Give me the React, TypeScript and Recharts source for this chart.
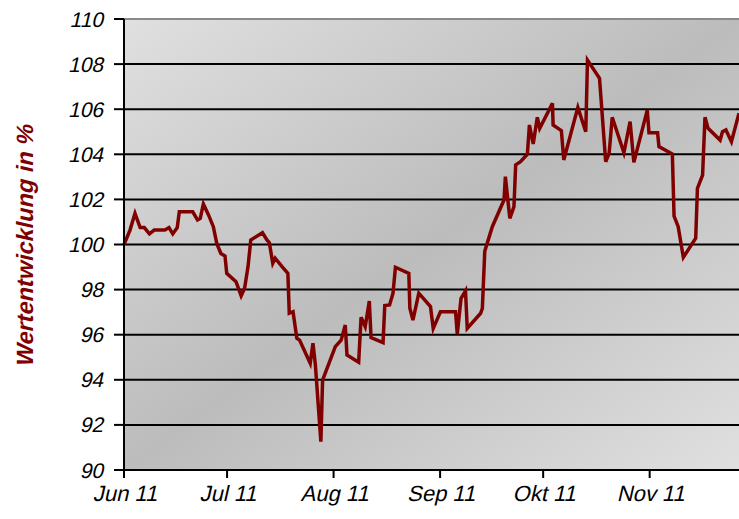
import { CartesianGrid, Line, LineChart, ReferenceLine, XAxis, YAxis } from "recharts";

// days since 1 Jun 2011
const days = [
  0, 1.75, 3.2, 4.7, 5.9, 7.4, 8.8, 11.9, 13.1, 14.2, 15.5, 16.1, 20.0, 21.4, 22.2, 23.1, 24.6, 26.0, 27.0, 28.2,
  29.4, 29.9, 32.6, 34.1, 35.1, 36.1, 36.9, 40.3, 41.6, 42.3, 43.3, 44.0, 46.0, 47.7, 48.1, 49.2, 50.3, 51.1, 54.2,
  55.0, 55.7, 57.3, 57.8, 61.5, 63.2, 64.4, 64.9, 68.3, 69.0, 70.2, 71.4, 71.9, 75.4, 75.9, 77.3, 78.3, 79.0, 82.9,
  83.2, 84.1, 85.8, 89.2, 90.0, 92.1, 96.5, 97.0, 98.1, 99.4, 99.9, 103.8, 104.3, 105.0, 105.7, 107.2, 110.6, 111.0,
  112.3, 113.5, 114.0, 115.4, 117.4, 118.0, 119.1, 120.3, 121.0, 124.7, 124.9, 127.3, 128.0, 132.1, 134.4, 134.9,
  138.4, 140.2, 141.2, 142.1, 145.5, 147.3, 148.4, 152.3, 152.8, 155.3, 155.7, 159.6, 160.1, 161.3, 162.8, 166.4,
  166.9, 168.4, 169.1, 170.0, 173.5, 174.2, 175.2, 176.8, 179.0,
];

const values = [
  100.0, 100.64, 101.38, 100.75, 100.75, 100.47, 100.64, 100.64, 100.75, 100.47, 100.75, 101.45, 101.45, 101.09,
  101.16, 101.8, 101.31, 100.79, 100.05, 99.6, 99.49, 98.72, 98.35, 97.72, 98.06, 99.02, 100.2, 100.52, 100.2,
  100.08, 99.17, 99.39, 99.02, 98.72, 96.95, 97.02, 95.84, 95.76, 94.73, 95.62, 94.66, 91.26, 93.99, 95.47, 95.76,
  96.43, 95.1, 94.78, 96.77, 96.36, 97.49, 95.87, 95.65, 97.29, 97.32, 97.84, 98.99, 98.72, 97.17, 96.65, 97.84,
  97.25, 96.28, 97.02, 97.02, 96.03, 97.61, 97.94, 96.28, 96.95, 97.17, 99.7, 100.05, 100.79, 101.97, 103.01,
  101.16, 101.68, 103.53, 103.67, 104.0, 105.3, 104.46, 105.64, 105.15, 106.26, 105.3, 105.05, 103.75, 106.08,
  105.0, 108.18, 107.37, 103.67, 104.04, 105.64, 104.07, 105.45, 103.64, 105.96, 104.96, 104.96, 104.34, 104.01,
  101.26, 100.79, 99.43, 100.28, 102.49, 103.08, 105.64, 105.15, 104.63, 105.0, 105.08, 104.56, 105.82,
];

const monthStarts = [0, 30, 61, 92, 122, 153];
const monthLabels = ["Jun 11", "Jul 11", "Aug 11", "Sep 11", "Okt 11", "Nov 11"];
const yTicks = [90, 92, 94, 96, 98, 100, 102, 104, 106, 108, 110];

const data = days.map((d, i) => ({ day: d, value: values[i] }));

const font = "'Liberation Sans', Arial, sans-serif";
const slant = -13; // fake italic, the italic face is not picked up

function AxisTitle(props: any) {
  const vb = props.viewBox || {};
  const cy = vb.y + vb.height / 2;
  return (
    <text
      x={0}
      y={0}
      transform={`translate(25, ${cy}) rotate(-90) skewX(${slant})`}
      textAnchor="middle"
      dominantBaseline="central"
      fill="#7f0000"
      fontFamily={font}
      fontWeight="bold"
      fontSize={23.5}
    >
      Wertentwicklung in %
    </text>
  );
}

function XTick(props: any) {
  const { x, y, payload } = props;
  return (
    <text
      x={0}
      y={0}
      transform={`translate(${x + 1}, ${y + 21}) skewX(${slant})`}
      textAnchor="middle"
      fill="#000"
      fontFamily={font}
      fontSize={22}
    >
      {monthLabels[monthStarts.indexOf(payload.value)]}
    </text>
  );
}

function YTick(props: any) {
  const { x, y, payload } = props;
  return (
    <text
      x={0}
      y={0}
      transform={`translate(${x - 2}, ${y + 7.5}) skewX(${slant})`}
      textAnchor="end"
      fill="#000"
      fontFamily={font}
      fontSize={21}
    >
      {payload.value}
    </text>
  );
}

export default function App() {
  return (
    <div style={{ position: "absolute", left: 0, top: 0, width: 739, height: 519, background: "#fff" }}>
      <LineChart width={739} height={519} data={data} margin={{ top: 19, right: 0, bottom: 0, left: 0 }}>
        <defs>
          <linearGradient id="bg" x1="0" y1="0" x2="1" y2="1">
            <stop offset="0%" stopColor="#e0e0e0" />
            <stop offset="50%" stopColor="#bcbcbc" />
            <stop offset="100%" stopColor="#e0e0e0" />
          </linearGradient>
        </defs>
        <CartesianGrid vertical={false} stroke="#000" strokeWidth={2} fill="url(#bg)" fillOpacity={1} />
        <ReferenceLine y={110} stroke="#8a8a8a" strokeWidth={2} />
        <XAxis
          dataKey="day"
          type="number"
          domain={[0, 179]}
          ticks={monthStarts}
          height={49}
          tickSize={8}
          tickMargin={2}
          axisLine={{ stroke: "#000", strokeWidth: 2 }}
          tickLine={{ stroke: "#000", strokeWidth: 2 }}
          tick={<XTick />}
          interval={0}
        />
        <YAxis
          domain={[90, 110]}
          ticks={yTicks}
          width={124}
          tickSize={10}
          tickMargin={9}
          axisLine={{ stroke: "#000", strokeWidth: 2 }}
          tickLine={{ stroke: "#000", strokeWidth: 2 }}
          tick={<YTick />}
          interval={0}
          label={<AxisTitle />}
        />
        <Line
          type="linear"
          dataKey="value"
          stroke="#800000"
          strokeWidth={3.5}
          dot={false}
          isAnimationActive={false}
        />
      </LineChart>
    </div>
  );
}
